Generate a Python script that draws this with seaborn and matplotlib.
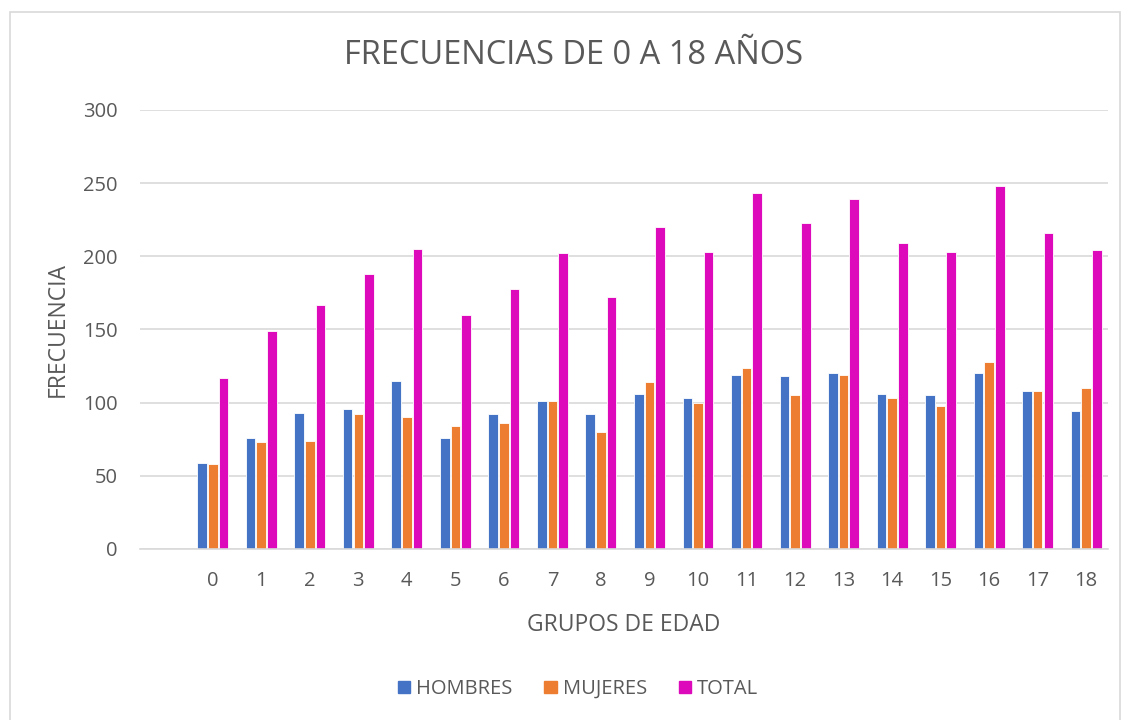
import pandas as pd
import numpy as np
import matplotlib.pyplot as plt
import seaborn as sns
from matplotlib.patches import Rectangle

# data
edades = [str(i) for i in range(19)]
hombres = [59, 76, 93, 96, 115, 76, 92, 101, 92, 106, 103, 119, 118, 120, 106, 105, 120, 108, 94]
mujeres = [58, 73, 74, 92, 90, 84, 86, 101, 80, 114, 100, 124, 105, 119, 103, 98, 128, 108, 110]
total = [117, 149, 167, 188, 205, 160, 178, 202, 172, 220, 203, 243, 223, 239, 209, 203, 248, 216, 204]
series = ['HOMBRES', 'MUJERES', 'TOTAL']
colores = ['#4472C4', '#ED7D31', '#DC0ABA']

df = pd.DataFrame({'edad': edades, 'HOMBRES': hombres, 'MUJERES': mujeres, 'TOTAL': total})
df = df.melt(id_vars='edad', value_vars=series, var_name='serie', value_name='frecuencia')

sns.set_style('white')
plt.rcParams['font.family'] = ['Open Sans', 'DejaVu Sans']
gris = '#595959'

fig = plt.figure(figsize=(11.27, 7.2), dpi=100)
ax = fig.add_axes([140 / 1127, 1 - 549 / 720, 968 / 1127, 439 / 720])

sns.barplot(data=df, x='edad', y='frecuencia', hue='serie', order=edades, hue_order=series,
            palette=colores, saturation=1, width=0.66, gap=0.1, edgecolor='white', linewidth=0.6,
            ax=ax, legend=False)

ax.set_ylim(0, 300)
ax.set_xlim(-1.5, 18.45)
ax.set_yticks(np.arange(0, 301, 50))
ax.yaxis.grid(True, color='#D9D9D9', linewidth=1.2)
ax.set_axisbelow(True)
for s in ['top', 'right', 'left']:
    ax.spines[s].set_visible(False)
ax.spines['bottom'].set_color('#D9D9D9')
ax.spines['bottom'].set_linewidth(1.2)
ax.tick_params(axis='both', length=0, labelsize=14.5, colors=gris)
ax.tick_params(axis='y', pad=16)
ax.tick_params(axis='x', pad=16)

ax.set_xlabel('GRUPOS DE EDAD', fontsize=16.5, color=gris, labelpad=16)
ax.set_ylabel('FRECUENCIA', fontsize=16.5, color=gris, labelpad=10)

fig.text(573 / 1127, 1 - 56 / 720, 'FRECUENCIAS DE 0 A 18 AÑOS', ha='center', va='center',
         fontsize=23.5, color=gris)

# legend
handles = [Rectangle((0, 0), 1, 1, color=c) for c in colores]
fig.legend(handles, series, loc='center', bbox_to_anchor=(578 / 1127, 1 - 689 / 720), ncol=3,
           frameon=False, fontsize=14.5, handlelength=0.6, handleheight=0.6, handletextpad=0.3,
           columnspacing=1.6, labelcolor=gris)

# outer chart border
fig.patches.append(Rectangle((10 / 1127, -0.01), 1110 / 1127, 1 - 12 / 720 + 0.01,
                             transform=fig.transFigure, fill=False, edgecolor='#D9D9D9',
                             linewidth=1.2))

fig.savefig('out.png', dpi=100)
